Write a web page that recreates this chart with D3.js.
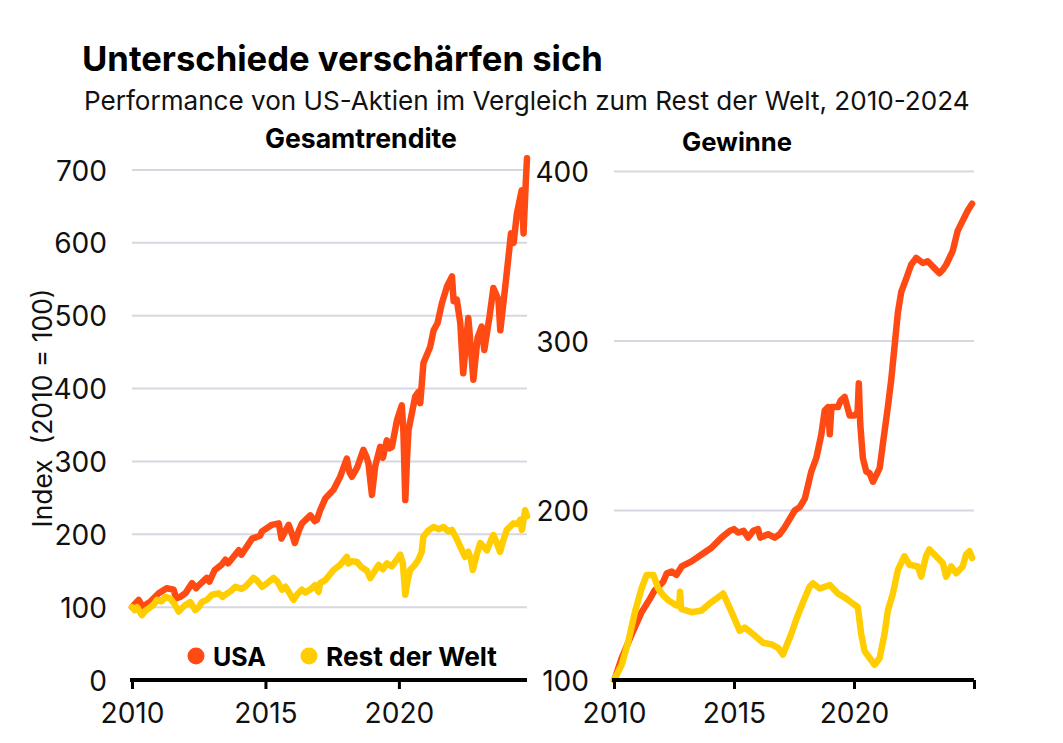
<!DOCTYPE html>
<html>
<head>
<meta charset="utf-8">
<script src="https://cdn.jsdelivr.net/npm/d3@7"></script>
<style>
  html, body { margin: 0; padding: 0; background: #ffffff; }
  svg { display: block; font-family: Inter, "Noto Sans", sans-serif; }
</style>
</head>
<body>
<svg id="chart" width="1063" height="743"></svg>
<script>
// ---------- DATA ----------
const titleText = "Unterschiede verschärfen sich";
const subtitleText = "Performance von US-Aktien im Vergleich zum Rest der Welt, 2010-2024";
const panelTitles = ["Gesamtrendite", "Gewinne"];
const yAxisTitle = "Index  (2010 = 100)";
const seriesNames = ["USA", "Rest der Welt"];
const seriesColors = ["#FF4A14", "#FFCD00"];

const leftYTicks = [0, 100, 200, 300, 400, 500, 600, 700];
const rightYTicks = [100, 200, 300, 400];
const leftXTicks = [2010, 2015, 2020];
const rightXTicks = [2010, 2015, 2020, 2025];
const xTickLabels = { 2010: "2010", 2015: "2015", 2020: "2020", 2025: "" };

// Gesamtrendite (total return), [year, index]
const usaTotal = [
  [2010.0,100],[2010.1,104],[2010.25,110],[2010.4,100],[2010.5,103],[2010.7,108],
  [2011.0,119],[2011.3,126],[2011.56,124],[2011.65,112],[2011.8,114],[2012.0,119],
  [2012.25,133],[2012.4,126],[2012.5,130],[2012.8,140],[2012.9,135],[2013.1,151],
  [2013.35,158],[2013.5,165],[2013.6,160],[2014.0,178],[2014.1,172],[2014.5,194],
  [2014.8,198],[2014.87,204],[2015.24,213],[2015.5,215],[2015.6,194],[2015.75,205],
  [2015.87,213],[2016.0,200],[2016.1,188],[2016.25,205],[2016.37,215],[2016.68,226],
  [2016.85,218],[2016.93,220],[2017.05,233],[2017.24,249],[2017.55,261],[2017.8,279],
  [2018.05,304],[2018.15,285],[2018.24,279],[2018.43,291],[2018.67,316],[2018.8,305],
  [2018.86,297],[2018.99,254],[2019.11,293],[2019.3,320],[2019.4,305],[2019.55,329],
  [2019.65,318],[2019.74,320],[2019.93,357],[2020.11,377],[2020.17,340],[2020.24,247],
  [2020.3,300],[2020.36,343],[2020.61,389],[2020.72,395],[2020.8,380],[2020.92,435],
  [2021.17,457],[2021.3,480],[2021.45,490],[2021.61,517],[2021.8,540],[2021.99,554],
  [2022.05,520],[2022.17,522],[2022.3,490],[2022.41,421],[2022.6,497],[2022.7,455],
  [2022.79,412],[2022.95,470],[2023.1,485],[2023.2,453],[2023.4,500],[2023.54,538],
  [2023.73,522],[2023.8,480],[2024.04,558],[2024.2,613],[2024.3,600],[2024.42,640],
  [2024.6,672],[2024.67,613],[2024.75,680],[2024.8,716]
];
const rowTotal = [
  [2010.0,100],[2010.1,96],[2010.19,100],[2010.37,89],[2010.5,95],[2010.62,98],
  [2010.8,103],[2010.94,110],[2011.1,108],[2011.25,114],[2011.43,112],[2011.6,104],
  [2011.75,94],[2011.85,98],[2012.0,103],[2012.18,107],[2012.37,96],[2012.5,100],
  [2012.62,107],[2012.8,110],[2013.0,117],[2013.24,119],[2013.4,114],[2013.49,117],
  [2013.7,122],[2013.87,128],[2014.1,125],[2014.24,128],[2014.4,134],[2014.55,140],
  [2014.7,136],[2014.87,128],[2015.0,131],[2015.3,140],[2015.45,135],[2015.62,124],
  [2015.75,128],[2015.87,121],[2016.05,110],[2016.2,118],[2016.37,124],[2016.5,120],
  [2016.74,126],[2016.85,130],[2016.99,121],[2017.05,133],[2017.24,137],[2017.55,151],
  [2017.8,158],[2018.05,169],[2018.11,160],[2018.25,163],[2018.43,162],[2018.6,155],
  [2018.8,150],[2018.93,140],[2019.1,150],[2019.24,158],[2019.4,152],[2019.55,160],
  [2019.74,156],[2020.05,172],[2020.15,160],[2020.24,117],[2020.32,135],[2020.42,151],
  [2020.6,158],[2020.73,165],[2020.85,175],[2020.92,197],[2021.1,205],[2021.3,210],
  [2021.5,207],[2021.67,210],[2021.85,204],[2021.99,206],[2022.15,195],[2022.3,183],
  [2022.48,169],[2022.6,176],[2022.7,165],[2022.77,151],[2022.9,170],[2023.05,188],
  [2023.2,182],[2023.3,178],[2023.45,192],[2023.54,199],[2023.65,190],[2023.79,176],
  [2023.9,190],[2024.04,206],[2024.29,215],[2024.45,214],[2024.55,220],[2024.61,206],
  [2024.73,233],[2024.8,225]
];

// Gewinne (earnings), [year, index]
const usaEarnings = [
  [2010.0,100],[2010.04,101],[2010.32,113],[2010.74,127],[2011.15,140],[2011.5,148],
  [2011.7,153],[2012.05,158],[2012.2,163],[2012.4,164],[2012.6,162],[2012.82,167],
  [2013.23,170],[2013.65,174],[2014.06,178],[2014.48,184],[2014.83,188],[2015.0,189],
  [2015.17,187],[2015.4,188],[2015.59,184],[2015.8,188],[2016.0,189],[2016.1,184],
  [2016.42,186],[2016.7,184],[2016.9,186],[2017.11,190],[2017.32,195],[2017.53,200],
  [2017.74,202],[2017.95,207],[2018.22,223],[2018.43,231],[2018.64,245],[2018.78,259],
  [2018.92,261],[2018.99,245],[2019.06,261],[2019.33,261],[2019.45,265],[2019.61,267],
  [2019.82,256],[2020.02,256],[2020.15,258],[2020.2,275],[2020.26,251],[2020.37,231],
  [2020.51,223],[2020.65,222],[2020.79,217],[2021.07,225],[2021.2,239],[2021.41,261],
  [2021.55,277],[2021.69,297],[2021.83,317],[2021.97,329],[2022.18,337],[2022.38,345],
  [2022.59,349],[2022.87,346],[2023.07,347],[2023.35,343],[2023.56,340],[2023.7,342],
  [2023.84,345],[2024.11,353],[2024.32,365],[2024.53,371],[2024.74,377],[2024.92,381]
];
const rowEarnings = [
  [2010.0,100],[2010.32,109],[2010.6,123],[2010.87,140],[2011.15,154],[2011.36,162],
  [2011.64,162],[2011.84,154],[2012.05,150],[2012.26,147],[2012.6,144],[2012.72,144],
  [2012.75,152],[2012.8,142],[2013.23,140],[2013.65,141],[2014.06,146],[2014.55,151],
  [2014.9,140],[2015.24,129],[2015.45,131],[2015.8,127],[2016.21,122],[2016.56,121],
  [2016.84,119],[2017.04,115],[2017.38,127],[2017.6,136],[2017.88,146],[2018.15,155],
  [2018.29,157],[2018.57,154],[2018.99,156],[2019.33,151],[2019.68,148],[2019.96,145],
  [2020.16,143],[2020.3,127],[2020.44,117],[2020.65,113],[2020.86,109],[2021.07,113],
  [2021.27,127],[2021.41,141],[2021.62,151],[2021.83,165],[2022.1,173],[2022.31,168],
  [2022.66,167],[2022.8,161],[2023.0,173],[2023.14,177],[2023.42,173],[2023.7,169],
  [2023.84,161],[2024.05,167],[2024.26,163],[2024.53,167],[2024.67,174],[2024.81,176],
  [2024.92,172]
];

// ---------- DRAWING ----------
const svg = d3.select("#chart");
svg.append("rect").attr("width", 1063).attr("height", 743).attr("fill", "#fff");

function fitWidth(sel, target) {
  const w = sel.node().getComputedTextLength();
  const fs = parseFloat(sel.attr("font-size"));
  sel.attr("font-size", (fs * target / w).toFixed(2));
  return fs * target / w;
}

// Title & subtitle
const t1 = svg.append("text").attr("x", 82).attr("y", 71)
  .attr("font-size", 28).attr("font-weight", 700).attr("fill", "#000").text(titleText);
fitWidth(t1, 521);
const t2 = svg.append("text").attr("x", 84).attr("y", 110)
  .attr("font-size", 22).attr("font-weight", 400).attr("fill", "#111").text(subtitleText);
fitWidth(t2, 886);

const panels = [
  { title: panelTitles[0], titleX: 265, titleY: 148, titleW: 192,
    x: d3.scaleLinear().domain([2010, 2024.8]).range([132, 527]),
    y: d3.scaleLinear().domain([0, 700]).range([680, 170]),
    yTicks: leftYTicks, xTicks: leftXTicks, labelX: 107,
    series: [usaTotal, rowTotal] },
  { title: panelTitles[1], titleX: 682, titleY: 151, titleW: 110,
    x: d3.scaleLinear().domain([2010, 2025]).range([614, 974]),
    y: d3.scaleLinear().domain([100, 400]).range([680, 171.5]),
    yTicks: rightYTicks, xTicks: rightXTicks, labelX: 589,
    series: [usaEarnings, rowEarnings] }
];

// Common tick font size from reference widths
const probe = svg.append("text").attr("font-size", 24).text("2010");
const tickFs = fitWidth(probe, 64);
probe.remove();

panels.forEach(p => {
  const g = svg.append("g");
  const [x0, x1] = p.x.range();

  // gridlines
  g.append("g").selectAll("line").data(p.yTicks).join("line")
    .attr("x1", x0).attr("x2", x1)
    .attr("y1", d => p.y(d)).attr("y2", d => p.y(d))
    .attr("stroke", "#d7d7e1").attr("stroke-width", 2);

  // y axis labels
  const yAxis = d3.axisLeft(p.y).tickValues(p.yTicks).tickSize(0).tickPadding(0);
  const ya = g.append("g").attr("transform", `translate(${p.labelX},0)`).call(yAxis);
  ya.select(".domain").remove();
  ya.selectAll("text").attr("font-size", tickFs).attr("font-family", "Inter, sans-serif")
    .attr("fill", "#111").attr("dy", "0.36em");

  // lines
  const line = d3.line().x(d => p.x(d[0])).y(d => p.y(d[1])).curve(d3.curveLinear);
  p.series.forEach((s, i) => {
    g.append("path").datum(s).attr("d", line)
      .attr("fill", "none").attr("stroke", seriesColors[i])
      .attr("stroke-width", 6.5).attr("stroke-linejoin", "round").attr("stroke-linecap", "round");
  });

  // x axis
  const xAxis = d3.axisBottom(p.x).tickValues(p.xTicks)
    .tickFormat(d => xTickLabels[d]).tickSizeInner(9).tickSizeOuter(0).tickPadding(14);
  const xa = g.append("g").attr("transform", `translate(0,680)`).call(xAxis);
  xa.select(".domain").attr("stroke", "#000").attr("stroke-width", 4)
    .attr("d", `M${x0 - 2},0H${x1}`);
  xa.selectAll(".tick line").attr("stroke", "#000").attr("stroke-width", 3);
  xa.selectAll("text").attr("font-size", tickFs).attr("font-family", "Inter, sans-serif")
    .attr("fill", "#111").attr("dy", "0.71em");

  // panel title
  const pt = svg.append("text").attr("x", p.titleX).attr("y", p.titleY)
    .attr("font-size", 22).attr("font-weight", 700).attr("fill", "#000").text(p.title);
  fitWidth(pt, p.titleW);
});

// y axis title
const yt = svg.append("text")
  .attr("transform", "translate(52,408) rotate(-90)")
  .attr("text-anchor", "middle").attr("font-size", 21).attr("fill", "#111")
  .style("white-space", "pre").text(yAxisTitle);
fitWidth(yt, 239);

// legend
const legendItems = [
  { cx: 196, tx: 213, w: 53 },
  { cx: 309, tx: 326, w: 171 }
];
legendItems.forEach((l, i) => {
  svg.append("circle").attr("cx", l.cx).attr("cy", 656).attr("r", 8.5).attr("fill", seriesColors[i]);
  const lt = svg.append("text").attr("x", l.tx).attr("y", 666)
    .attr("font-size", 25).attr("font-weight", 700).attr("fill", "#000").text(seriesNames[i]);
  fitWidth(lt, l.w);
});
</script>
</body>
</html>
